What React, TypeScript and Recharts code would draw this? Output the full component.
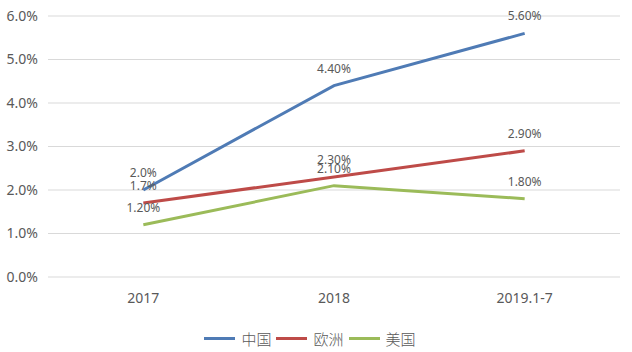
import React from "react";
import { LineChart, Line, XAxis, YAxis, CartesianGrid, LabelList, Legend } from "recharts";

const categories = ["2017", "2018", "2019.1-7"];
const china = [0.02, 0.044, 0.056];
const europe = [0.017, 0.023, 0.029];
const usa = [0.012, 0.021, 0.018];
const chinaLabels = ["2.0%", "4.40%", "5.60%"];
const europeLabels = ["1.7%", "2.30%", "2.90%"];
const usaLabels = ["1.20%", "2.10%", "1.80%"];
const yTicks = [0, 0.01, 0.02, 0.03, 0.04, 0.05, 0.06];

const seriesNames = ["中国", "欧洲", "美国"];
const seriesColors = ["#4f7bb5", "#be4b48", "#9bbb59"];

const data = categories.map((c, i) => ({
  name: c,
  s0: china[i],
  s1: europe[i],
  s2: usa[i],
  l0: chinaLabels[i],
  l1: europeLabels[i],
  l2: usaLabels[i],
}));

const FONT = "'Noto Sans', 'DejaVu Sans', sans-serif";
const CJK = "'Noto Sans CJK SC', sans-serif";

const LegendContent = () => (
  <div style={{ display: "flex", justifyContent: "center", alignItems: "center", height: 28 }}>
    {seriesNames.map((n, i) => (
      <div key={n} style={{ display: "flex", alignItems: "center", marginRight: i < 2 ? 5 : 0 }}>
        <div style={{ width: 31, height: 3, background: seriesColors[i], marginRight: 6 }} />
        <span style={{ fontFamily: CJK, fontSize: 15, color: "#595959", fontWeight: 300 }}>{n}</span>
      </div>
    ))}
  </div>
);

export default function App() {
  return (
    <div style={{ position: "absolute", left: 0, top: 0, width: 632, height: 352, background: "#fff" }}>
      <LineChart width={632} height={352} data={data} margin={{ top: 16, right: 12, bottom: 0, left: 0 }}>
        <CartesianGrid vertical={false} stroke="#d9d9d9" />
        <XAxis
          dataKey="name"
          scale="band"
          axisLine={false}
          tickLine={false}
          tickMargin={10}
          tick={{ fill: "#595959", fontSize: 14, fontFamily: FONT }}
          height={47}
        />
        <YAxis
          domain={[0, 0.06]}
          ticks={yTicks}
          width={48}
          axisLine={false}
          tickLine={false}
          tickMargin={4}
          tickFormatter={(v: number) => (v * 100).toFixed(1) + "%"}
          tick={{ fill: "#595959", fontSize: 14, fontFamily: FONT }}
        />
        <Legend verticalAlign="bottom" height={28} content={<LegendContent />} />
        {[0, 1, 2].map((k) => (
          <Line
            key={k}
            type="linear"
            dataKey={"s" + k}
            name={seriesNames[k]}
            stroke={seriesColors[k]}
            strokeWidth={3}
            dot={false}
            isAnimationActive={false}
          >
            <LabelList
              dataKey={"l" + k}
              position="top"
              offset={13}
              style={{ fill: "#595959", fontSize: 12, fontFamily: FONT }}
            />
          </Line>
        ))}
      </LineChart>
    </div>
  );
}
